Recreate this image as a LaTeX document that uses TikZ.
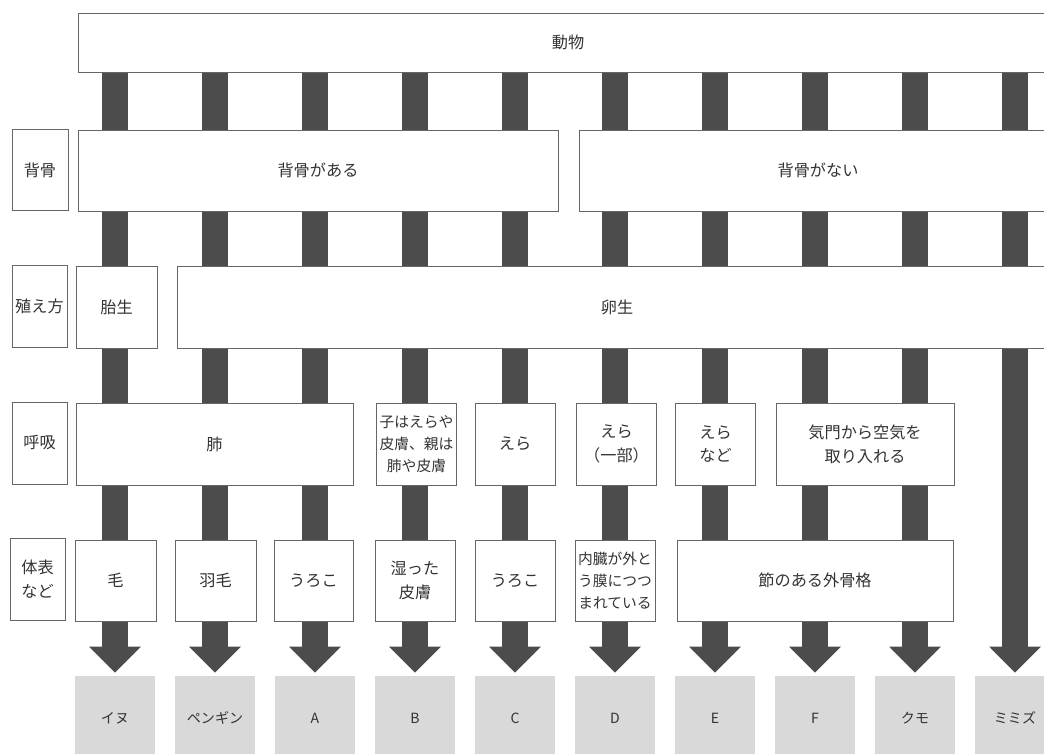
\documentclass[tikz,border=0pt]{standalone}
\usepackage{fontspec}
\setmainfont{Noto Sans CJK JP}
\usetikzlibrary{arrows.meta,backgrounds}
\begin{document}
\begin{tikzpicture}[x=0.025cm,y=-0.025cm,
        box/.style={draw=black!60,line width=0.6pt,fill=white,text=black!80,inner sep=1pt,align=center,
            minimum width=#1*0.025cm,minimum height=81*0.025cm,font=\fontsize{11.5}{17}\selectfont},
        box/.default=80,
        tight/.style={font=\fontsize{10.5}{15.5}\selectfont},
        animal/.style={fill=black!15,text=black!80,minimum width=2cm,minimum height=2.1cm,font=\fontsize{10}{12}\selectfont},
        bar/.style={line width=0.65cm,draw=black!70,shorten >=0.075cm,-{Triangle[width=1.25cm,length=0.65cm]}}]
            \clip (0,0) rectangle (1044,754);
            \node[box=980,minimum height=59*0.025cm] (dobutsu) at (568,42.5) {動物};
            \node[box=56] (l1) at (40,170) {背骨};
            \node[box=480] (aru) at (318,170.5) {背骨がある};
            \node[box=478] (nai) at (818,170.5) {背骨がない};
            \node[box=55,minimum height=82*0.025cm] (l2) at (39.5,306) {殖え方};
            \node[box=81,minimum height=82*0.025cm] (taisei) at (116.5,307) {胎生};
            \node[box=880,minimum height=82*0.025cm] (ransei) at (617,307) {卵生};
            \node[box=55,minimum height=82*0.025cm] (l3) at (39.5,443) {呼吸};
            \node[box=277,minimum height=82*0.025cm] (hai) at (214.5,444) {肺};
            \node[box,tight,minimum height=82*0.025cm] (kokyuB) at (416.5,444) {子はえらや\\皮膚、親は\\肺や皮膚};
            \node[box,minimum height=82*0.025cm] (kokyuC) at (515,444) {えら};
            \node[box,minimum height=82*0.025cm] (kokyuD) at (616.5,444) {えら\\（一部）};
            \node[box,minimum height=82*0.025cm] (kokyuE) at (715.5,444) {えら\\など};
            \node[box=178,minimum height=82*0.025cm] (kimon) at (865,444) {気門から空気を\\取り入れる};
            \node[box=55,minimum height=82*0.025cm] (l4) at (37.5,579) {体表\\など};
            \node[box=81] (ke) at (115.5,580.5) {毛};
            \node[box=81] (hane) at (215.5,580.5) {羽毛};
            \node[box=79] (urokoA) at (313.5,580.5) {うろこ};
            \node[box] (hifu) at (415,580.5) {湿った\\皮膚};
            \node[box] (urokoC) at (515,580.5) {うろこ};
            \node[box,tight] (maku) at (615,580.5) {内臓が外と\\う膜につつ\\まれている};
            \node[box=276] (fushi) at (815,580.5) {節のある外骨格};
            \foreach \name [count=\i from 0] in {イヌ,ペンギン,A,B,C,D,E,F,クモ,ミミズ}
                \node[animal] (a\i) at (115+100*\i,718) {\name};
            \begin{scope}[on background layer]
                \foreach \i in {0,...,9}
                    \draw[bar] (dobutsu.south -| a\i.north) -- (a\i.north);
            \end{scope}
        \end{tikzpicture}
\end{document}
